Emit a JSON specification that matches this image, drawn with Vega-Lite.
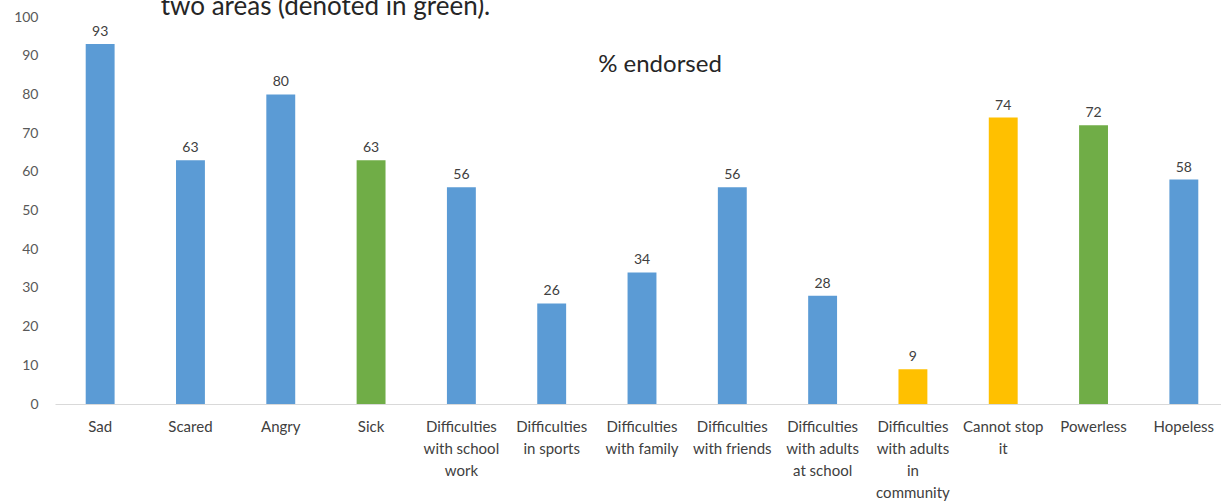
{
  "$schema": "https://vega.github.io/schema/vega-lite/v6.json",
  "width": 1174,
  "height": 387,
  "autosize": {"type": "none"},
  "padding": {"left": 55, "top": 17, "right": 0, "bottom": 100},
  "background": "white",
  "config": {"view": {"stroke": null}, "font": "Lato"},
  "title": {"text": "% endorsed", "anchor": "middle", "dx": 18, "offset": -84, "fontSize": 24, "fontWeight": "normal", "color": "#262626", "font": "Lato"},
  "data": {"values": [
    {"category": "Sad", "value": 93, "group": "blue"},
    {"category": "Scared", "value": 63, "group": "blue"},
    {"category": "Angry", "value": 80, "group": "blue"},
    {"category": "Sick", "value": 63, "group": "green"},
    {"category": "Difficulties with school work", "value": 56, "group": "blue"},
    {"category": "Difficulties in sports", "value": 26, "group": "blue"},
    {"category": "Difficulties with family", "value": 34, "group": "blue"},
    {"category": "Difficulties with friends", "value": 56, "group": "blue"},
    {"category": "Difficulties with adults at school", "value": 28, "group": "blue"},
    {"category": "Difficulties with adults in community", "value": 9, "group": "yellow"},
    {"category": "Cannot stop it", "value": 74, "group": "yellow"},
    {"category": "Powerless", "value": 72, "group": "green"},
    {"category": "Hopeless", "value": 58, "group": "blue"}
  ]},
  "encoding": {
    "x": {
      "field": "category", "type": "nominal", "sort": null,
      "scale": {"paddingInner": 0.68, "paddingOuter": 0.34},
      "axis": {
        "title": null, "labelAngle": 0, "ticks": false, "domainColor": "#D9D9D9", "domainWidth": 1,
        "labelFontSize": 15, "labelColor": "#404040", "labelPadding": 15, "labelLineHeight": 22, "labelBaseline": "top",
        "labelLimit": 200,
        "labelExpr": "({'Difficulties with school work': ['Difficulties', 'with school', 'work'], 'Difficulties in sports': ['Difficulties', 'in sports'], 'Difficulties with family': ['Difficulties', 'with family'], 'Difficulties with friends': ['Difficulties', 'with friends'], 'Difficulties with adults at school': ['Difficulties', 'with adults', 'at school'], 'Difficulties with adults in community': ['Difficulties', 'with adults', 'in', 'community'], 'Cannot stop it': ['Cannot stop', 'it']})[datum.label] || datum.label"
      }
    },
    "y": {
      "field": "value", "type": "quantitative",
      "scale": {"domain": [0, 100]},
      "axis": {
        "title": "two areas (denoted in green).", "titleAngle": 0, "titleX": 270, "titleY": -3,
        "titleAlign": "center", "titleBaseline": "alphabetic", "titleFontSize": 26, "titleFontWeight": "normal",
        "titleColor": "#262626", "titleFont": "Lato",
        "domain": false, "ticks": false, "grid": false, "labelPadding": 17,
        "labelFontSize": 14, "labelColor": "#595959",
        "values": [0, 10, 20, 30, 40, 50, 60, 70, 80, 90, 100]
      }
    }
  },
  "layer": [
    {
      "mark": {"type": "bar"},
      "encoding": {
        "color": {"field": "group", "type": "nominal", "legend": null,
          "scale": {"domain": ["blue", "green", "yellow"], "range": ["#5B9BD5", "#70AD47", "#FFC000"]}}
      }
    },
    {
      "mark": {"type": "text", "baseline": "alphabetic", "dy": -8, "fontSize": 14, "color": "#404040"},
      "encoding": {"text": {"field": "value", "type": "quantitative"}}
    }
  ]
}
